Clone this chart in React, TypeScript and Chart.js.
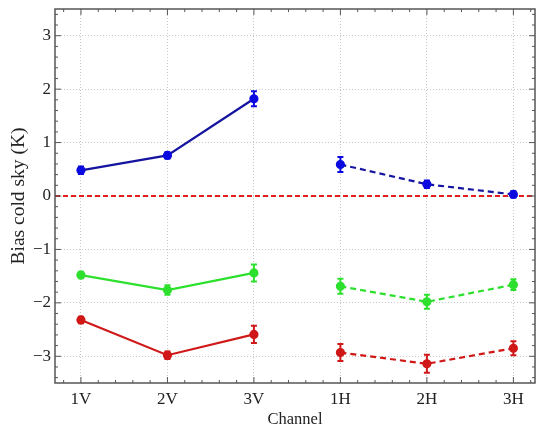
import React, { useEffect, useRef } from "react";
import { Chart, registerables } from "chart.js";

Chart.register(...registerables);

const channels = ["1V", "2V", "3V", "1H", "2H", "3H"];
const vIndex = [1, 2, 3];
const hIndex = [4, 5, 6];

const blueV = [0.48, 0.76, 1.82];
const blueVErr = [0.07, 0.06, 0.14];
const blueH = [0.59, 0.22, 0.03];
const blueHErr = [0.14, 0.07, 0.06];

const greenV = [-1.48, -1.76, -1.44];
const greenVErr = [0.06, 0.09, 0.16];
const greenH = [-1.69, -1.98, -1.66];
const greenHErr = [0.14, 0.13, 0.1];

const redV = [-2.32, -2.98, -2.59];
const redVErr = [0.06, 0.07, 0.16];
const redH = [-2.93, -3.14, -2.85];
const redHErr = [0.16, 0.17, 0.13];

const yTicks = [-3, -2, -1, 0, 1, 2, 3];
const ZERO_LINE = 0;

const BLUE_LINE = "#1414a0";
const BLUE_MARK = "#0a0ae0";
const GREEN = "#2ee02e";
const RED = "#d01818";

const toPts = (xs: number[], ys: number[]) => xs.map((x, i) => ({ x, y: ys[i] }));

export default function App() {
  const ref = useRef<HTMLCanvasElement | null>(null);

  useEffect(() => {
    const canvas = ref.current;
    if (!canvas) return;

    const mk = (label: string, xs: number[], ys: number[], errs: number[], line: string, mark: string, dashed: boolean) => ({
      label,
      data: toPts(xs, ys),
      errs,
      borderColor: line,
      backgroundColor: mark,
      pointBackgroundColor: mark,
      pointBorderColor: mark,
      pointRadius: 3.5,
      pointStyle: "circle",
      borderWidth: 2.2,
      borderDash: dashed ? [6, 4] : [],
      showLine: true,
      tension: 0,
    });

    const datasets: any[] = [
      mk("blueV", vIndex, blueV, blueVErr, BLUE_LINE, BLUE_MARK, false),
      mk("blueH", hIndex, blueH, blueHErr, BLUE_LINE, BLUE_MARK, true),
      mk("greenV", vIndex, greenV, greenVErr, GREEN, GREEN, false),
      mk("greenH", hIndex, greenH, greenHErr, GREEN, GREEN, true),
      mk("redV", vIndex, redV, redVErr, RED, RED, false),
      mk("redH", hIndex, redH, redHErr, RED, RED, true),
    ];

    const framePlugin = {
      id: "frame",
      beforeDatasetsDraw(chart: any) {
        const { ctx, chartArea: a, scales } = chart;
        const y = scales.y.getPixelForValue(ZERO_LINE);
        ctx.save();
        ctx.strokeStyle = "#e02020";
        ctx.lineWidth = 2;
        ctx.setLineDash([5, 3]);
        ctx.beginPath();
        ctx.moveTo(a.left, y);
        ctx.lineTo(a.right, y);
        ctx.stroke();
        ctx.restore();
      },
      afterDatasetsDraw(chart: any) {
        const { ctx, chartArea: a, scales } = chart;
        ctx.save();
        chart.data.datasets.forEach((ds: any, di: number) => {
          const meta = chart.getDatasetMeta(di);
          ctx.strokeStyle = ds.pointBackgroundColor;
          ctx.lineWidth = 2;
          ctx.setLineDash([]);
          ds.data.forEach((p: any, i: number) => {
            const e = ds.errs[i];
            const px = meta.data[i].x;
            const y1 = scales.y.getPixelForValue(p.y + e);
            const y2 = scales.y.getPixelForValue(p.y - e);
            ctx.beginPath();
            ctx.moveTo(px, y1);
            ctx.lineTo(px, y2);
            ctx.moveTo(px - 3, y1);
            ctx.lineTo(px + 3, y1);
            ctx.moveTo(px - 3, y2);
            ctx.lineTo(px + 3, y2);
            ctx.stroke();
          });
        });
        ctx.strokeStyle = "#555";
        ctx.lineWidth = 1.5;
        ctx.strokeRect(a.left, a.top, a.right - a.left, a.bottom - a.top);
        ctx.lineWidth = 1;
        const xs = scales.x, ys = scales.y;
        for (let v = 0.8; v <= 6.21; v += 0.2) {
          const r = Math.round(v * 10) / 10;
          const major = Math.abs(r - Math.round(r)) < 1e-6;
          const len = major ? 6 : 3;
          const px = xs.getPixelForValue(r);
          ctx.beginPath();
          ctx.moveTo(px, a.bottom);
          ctx.lineTo(px, a.bottom - len);
          ctx.moveTo(px, a.top);
          ctx.lineTo(px, a.top + len);
          ctx.stroke();
        }
        for (let v = -3.4; v <= 3.41; v += 0.2) {
          const r = Math.round(v * 10) / 10;
          const major = Math.abs(r - Math.round(r)) < 1e-6;
          const len = major ? 6 : 3;
          const py = ys.getPixelForValue(r);
          ctx.beginPath();
          ctx.moveTo(a.left, py);
          ctx.lineTo(a.left + len, py);
          ctx.moveTo(a.right, py);
          ctx.lineTo(a.right - len, py);
          ctx.stroke();
        }
        ctx.restore();
      },
    };

    const family = "'Liberation Serif', 'Times New Roman', serif";
    const font = { family, size: 17 };

    const chart = new Chart(canvas, {
      type: "scatter",
      data: { datasets },
      options: {
        animation: false,
        responsive: false,
        maintainAspectRatio: false,
        layout: { autoPadding: false, padding: { top: 9, right: 1, left: 0, bottom: 0 } },
        plugins: { legend: { display: false }, tooltip: { enabled: false } },
        scales: {
          x: {
            type: "linear",
            min: 0.7,
            max: 6.25,
            afterBuildTicks: (s: any) => {
              s.ticks = channels.map((_, i) => ({ value: i + 1 }));
            },
            afterFit: (s: any) => {
              s.height = 47;
              s.paddingLeft = 0;
              s.paddingRight = 0;
            },
            ticks: {
              color: "#222",
              font,
              padding: 6,
              maxRotation: 0,
              callback: (v: any) => channels[Math.round(v) - 1] ?? "",
            },
            grid: { color: "#c8c8c8", lineWidth: 1, drawTicks: false },
            border: { display: false, dash: [1, 2] },
            title: {
              display: true,
              text: "Channel",
              color: "#222",
              font: { family, size: 16.5 },
              padding: { top: 0, bottom: 0 },
            },
          },
          y: {
            type: "linear",
            min: -3.5,
            max: 3.5,
            afterBuildTicks: (s: any) => {
              s.ticks = yTicks.map((v) => ({ value: v }));
            },
            afterFit: (s: any) => {
              s.width = 55;
              s.paddingTop = 0;
              s.paddingBottom = 0;
            },
            ticks: {
              color: "#222",
              font,
              padding: 4,
              callback: (v: any) => (v < 0 ? "\u2212" + Math.abs(v) : String(v)),
            },
            grid: { color: "#c8c8c8", lineWidth: 1, drawTicks: false },
            border: { display: false, dash: [1, 2] },
            title: {
              display: true,
              text: "Bias cold sky (K)",
              color: "#222",
              font: { family, size: 19.5 },
              padding: { top: 7, bottom: 0 },
            },
          },
        },
      } as any,
      plugins: [framePlugin],
    });

    return () => chart.destroy();
  }, []);

  return (
    <div style={{ position: "fixed", left: 0, top: 0, width: 536, height: 430, background: "#fff" }}>
      <canvas ref={ref} width={536} height={430} style={{ width: 536, height: 430 }} />
    </div>
  );
}
